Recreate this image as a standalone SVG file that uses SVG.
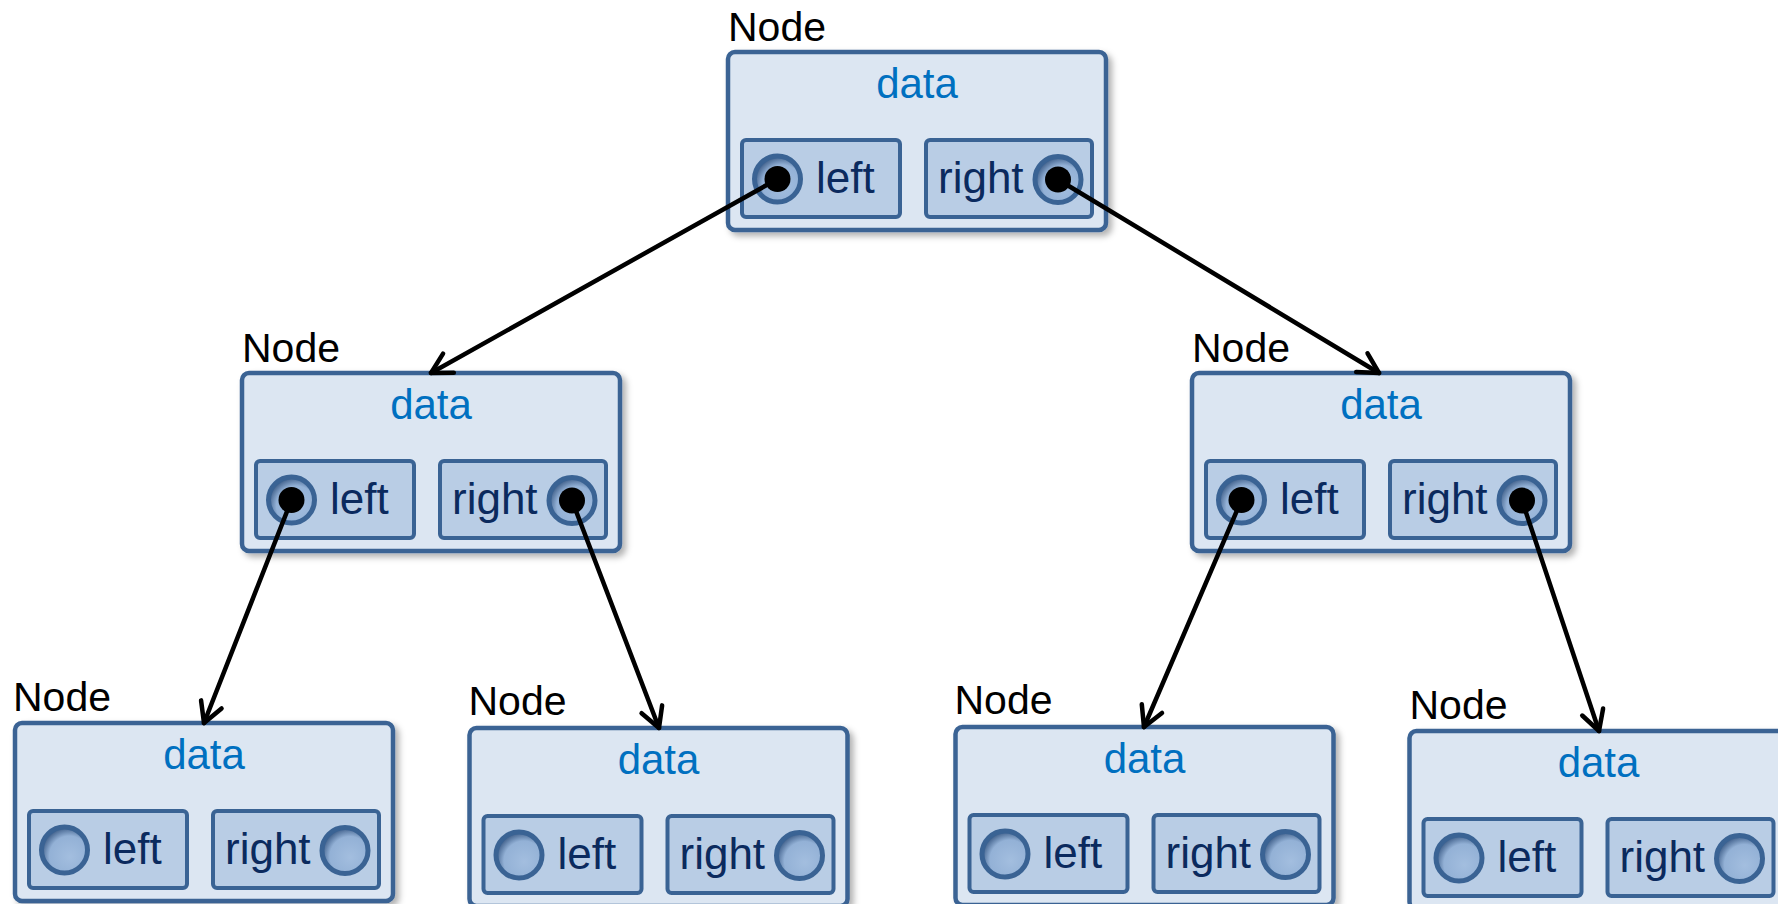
<svg xmlns="http://www.w3.org/2000/svg" width="1778" height="904" viewBox="0 0 1778 904">
  <defs>
    <style>
      .outer { fill: #DCE6F2; stroke: #3A6394; stroke-width: 4.5; filter: url(#shadow); }
      .field { fill: #B9CDE5; stroke: #3A6394; stroke-width: 4; }
      .port { fill: url(#portFill); stroke: #3A6394; stroke-width: 5; }
      .dot { fill: #000; }
      .lbl { font-family: "Liberation Sans", Arial, sans-serif; font-size: 41px; fill: #000; }
      .data { font-family: "Liberation Sans", Arial, sans-serif; font-size: 42px; fill: #0070C0; text-anchor: middle; }
      .fname { font-family: "Liberation Sans", Arial, sans-serif; font-size: 44px; fill: #0B2A5E; }
      .edge { fill: none; stroke: #000; stroke-width: 4.5; stroke-linecap: round; marker-end: url(#arrow); }
    </style>
    <filter id="shadow" x="-5%" y="-5%" width="115%" height="120%">
      <feDropShadow dx="4" dy="4" stdDeviation="3" flood-color="#000" flood-opacity="0.3"/>
    </filter>
    <radialGradient id="portFill" cx="0.6" cy="0.62" r="0.62" fx="0.62" fy="0.65">
      <stop offset="0" stop-color="#A3BEDF"/>
      <stop offset="0.7" stop-color="#93B1D6"/>
      <stop offset="1" stop-color="#3F5F8A"/>
    </radialGradient>
    <marker id="arrow" markerUnits="userSpaceOnUse" markerWidth="40" markerHeight="40" refX="0" refY="0" viewBox="-30 -20 40 40" orient="auto">
      <path d="M -20 -11 L 0 0 L -20 11" fill="none" stroke="#000" stroke-width="4.5" stroke-linecap="round" stroke-linejoin="round"/>
    </marker>
  </defs>

  <rect width="1778" height="904" fill="#FFFFFF"/>

  <!-- root -->
  <g id="node-root" transform="translate(728,52)">
    <text class="lbl" x="0" y="-11">Node</text>
    <rect class="outer" x="0" y="0" width="378" height="178" rx="7"/>
    <text class="data" x="189" y="46">data</text>
    <rect class="field" x="14" y="88" width="158" height="77" rx="4"/>
    <rect class="field" x="198" y="88" width="166" height="77" rx="4"/>
    <circle class="port" cx="49.5" cy="127" r="23"/>
    <circle class="dot" cx="49.5" cy="127" r="13"/>
    <text class="fname" x="88" y="141">left</text>
    <text class="fname" x="210" y="141">right</text>
    <circle class="port" cx="330" cy="127.5" r="23"/>
    <circle class="dot" cx="330" cy="127.5" r="13"/>
  </g>

  <!-- second level, left -->
  <g id="node-l" transform="translate(242,373)">
    <text class="lbl" x="0" y="-11">Node</text>
    <rect class="outer" x="0" y="0" width="378" height="178" rx="7"/>
    <text class="data" x="189" y="46">data</text>
    <rect class="field" x="14" y="88" width="158" height="77" rx="4"/>
    <rect class="field" x="198" y="88" width="166" height="77" rx="4"/>
    <circle class="port" cx="49.5" cy="127" r="23"/>
    <circle class="dot" cx="49.5" cy="127" r="13"/>
    <text class="fname" x="88" y="141">left</text>
    <text class="fname" x="210" y="141">right</text>
    <circle class="port" cx="330" cy="127.5" r="23"/>
    <circle class="dot" cx="330" cy="127.5" r="13"/>
  </g>

  <!-- second level, right -->
  <g id="node-r" transform="translate(1192,373)">
    <text class="lbl" x="0" y="-11">Node</text>
    <rect class="outer" x="0" y="0" width="378" height="178" rx="7"/>
    <text class="data" x="189" y="46">data</text>
    <rect class="field" x="14" y="88" width="158" height="77" rx="4"/>
    <rect class="field" x="198" y="88" width="166" height="77" rx="4"/>
    <circle class="port" cx="49.5" cy="127" r="23"/>
    <circle class="dot" cx="49.5" cy="127" r="13"/>
    <text class="fname" x="88" y="141">left</text>
    <text class="fname" x="210" y="141">right</text>
    <circle class="port" cx="330" cy="127.5" r="23"/>
    <circle class="dot" cx="330" cy="127.5" r="13"/>
  </g>

  <!-- leaves -->
  <g id="node-ll" transform="translate(15,723)">
    <text class="lbl" x="-2" y="-12">Node</text>
    <rect class="outer" x="0" y="0" width="378" height="178" rx="7"/>
    <text class="data" x="189" y="46">data</text>
    <rect class="field" x="14" y="88" width="158" height="77" rx="4"/>
    <rect class="field" x="198" y="88" width="166" height="77" rx="4"/>
    <circle class="port" cx="49.5" cy="127" r="23"/>
    <text class="fname" x="88" y="141">left</text>
    <text class="fname" x="210" y="141">right</text>
    <circle class="port" cx="330" cy="127.5" r="23"/>
  </g>

  <g id="node-lr" transform="translate(469.5,728)">
    <text class="lbl" x="-1" y="-13">Node</text>
    <rect class="outer" x="0" y="0" width="378" height="178" rx="7"/>
    <text class="data" x="189" y="46">data</text>
    <rect class="field" x="14" y="88" width="158" height="77" rx="4"/>
    <rect class="field" x="198" y="88" width="166" height="77" rx="4"/>
    <circle class="port" cx="49.5" cy="127" r="23"/>
    <text class="fname" x="88" y="141">left</text>
    <text class="fname" x="210" y="141">right</text>
    <circle class="port" cx="330" cy="127.5" r="23"/>
  </g>

  <g id="node-rl" transform="translate(955.5,727)">
    <text class="lbl" x="-1" y="-13">Node</text>
    <rect class="outer" x="0" y="0" width="378" height="178" rx="7"/>
    <text class="data" x="189" y="46">data</text>
    <rect class="field" x="14" y="88" width="158" height="77" rx="4"/>
    <rect class="field" x="198" y="88" width="166" height="77" rx="4"/>
    <circle class="port" cx="49.5" cy="127" r="23"/>
    <text class="fname" x="88" y="141">left</text>
    <text class="fname" x="210" y="141">right</text>
    <circle class="port" cx="330" cy="127.5" r="23"/>
  </g>

  <g id="node-rr" transform="translate(1409.5,731)">
    <text class="lbl" x="0" y="-12">Node</text>
    <rect class="outer" x="0" y="0" width="378" height="178" rx="7"/>
    <text class="data" x="189" y="46">data</text>
    <rect class="field" x="14" y="88" width="158" height="77" rx="4"/>
    <rect class="field" x="198" y="88" width="166" height="77" rx="4"/>
    <circle class="port" cx="49.5" cy="127" r="23"/>
    <text class="fname" x="88" y="141">left</text>
    <text class="fname" x="210" y="141">right</text>
    <circle class="port" cx="330" cy="127.5" r="23"/>
  </g>

  <!-- child pointers -->
  <g id="connectors">
    <line class="edge" x1="777.5" y1="179" x2="431" y2="373"/>
    <line class="edge" x1="1058" y1="179.5" x2="1379" y2="373"/>
    <line class="edge" x1="291.5" y1="500" x2="204" y2="723"/>
    <line class="edge" x1="572" y1="500.5" x2="659" y2="728"/>
    <line class="edge" x1="1241.5" y1="500" x2="1144" y2="727"/>
    <line class="edge" x1="1522" y1="500.5" x2="1599" y2="731"/>
  </g>
</svg>
